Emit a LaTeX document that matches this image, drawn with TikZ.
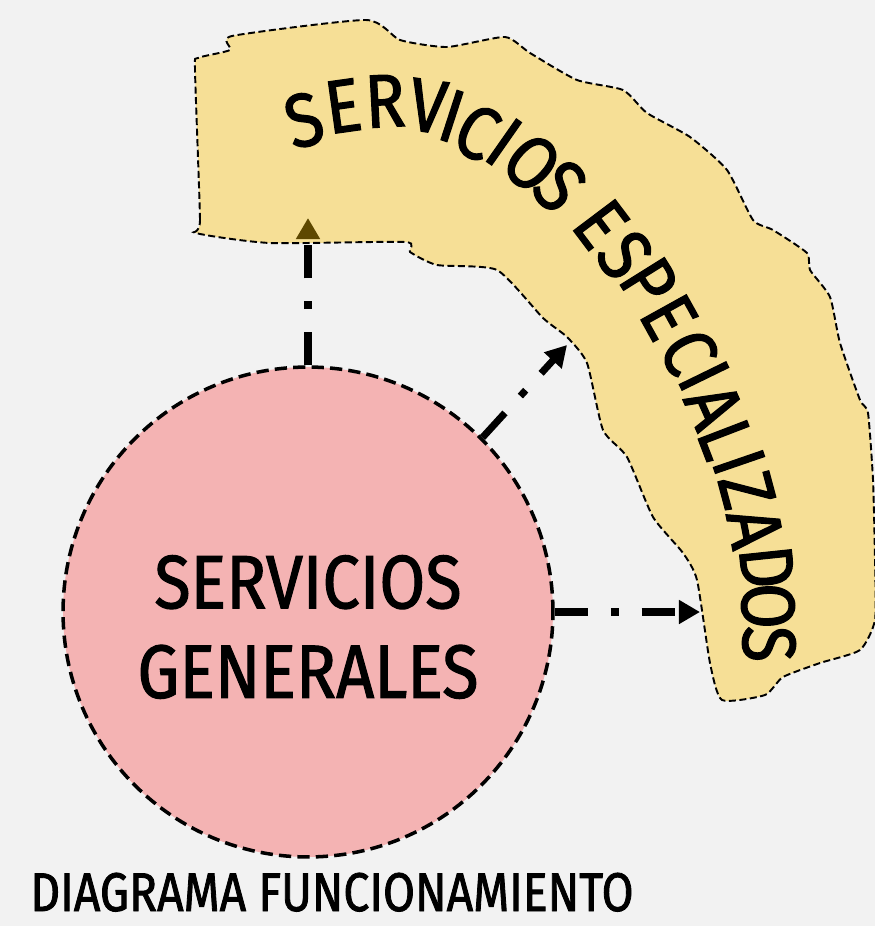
\documentclass[tikz,border=0pt]{standalone}
\usepackage{fontspec}
\setmainfont{Fira Sans}
\newfontfamily\dinfont{Fira Sans}[FakeStretch=0.88, FakeBold=1.5]
\newfontfamily\dinarc{Fira Sans}[FakeStretch=0.88, FakeBold=1.5]
\newfontfamily\dinnarrow{Fira Sans}[FakeStretch=0.85, FakeBold=1.5]
\usetikzlibrary{arrows.meta,shapes}
\definecolor{fondo}{HTML}{F2F2F2}
\definecolor{rosa}{HTML}{F4B3B3}
\definecolor{arena}{HTML}{F6DF96}
\definecolor{punta}{HTML}{5E4800}
\tikzstyle{general} = [circle, draw=black, fill=rosa, line width=2pt,
                       dash pattern=on 7pt off 3.5pt,
                       minimum size=9.8cm, inner sep=0pt]
\tikzstyle{zona} = [draw=black, fill=arena, line width=1.1pt,
                    dash pattern=on 4pt off 2pt]
\tikzstyle{flecha} = [line width=4pt,
                      dash pattern=on 19pt off 13pt on 4.5pt off 13pt,
                      -{Triangle[length=12pt, width=13pt]}]
\tikzstyle{rotulo} = [inner sep=0pt, align=center,
                      font=\dinfont\fontsize{43}{51}\selectfont]
\tikzstyle{letra} = [inner sep=0pt, font=\dinarc\fontsize{43}{43}\selectfont]

\begin{document}
\begin{tikzpicture}[x=0.02cm, y=-0.02cm]
  \fill[fondo] (0,0) rectangle (875,926);
  \useasboundingbox (0,0) rectangle (875,926);
  % franja de servicios especializados
  \draw[zona] plot[smooth cycle, tension=0.35] coordinates {
    (196,233) (200,220) (195,70) (198,58) (230,50) (232,36) (366,20)
    (400,40) (447,47) (505,37) (530,53) (577,80) (623,90) (647,113)
    (690,137) (727,170) (753,220) (773,230) (807,253) (810,270)
    (830,297) (840,343) (860,400) (868,413) (873,480) (875,560)
    (875,620) (860,650) (820,663) (783,677) (765,695) (722,700)
    (710,663) (697,580) (683,553) (653,517) (627,457) (603,430)
    (587,363) (567,337) (543,318) (497,270) (437,265) (410,252)
    (405,242) (270,243)};
  \foreach \x/\y/\a/\l [count=\i] in {
      304/120/15/S, 343/106/8/E, 385/101/3/R, 428/106/-8/V,
      452/116/-18/I, 477/132/-28/C, 504/142/-35/I, 532/163/-42/O,
      560/186/-48/S,
      601/224/-53/E, 625/255/-56/S, 649/282/-58/P, 669/317/-61/E,
      689/352/-63/C, 704/376/-64/I, 714/406/-66/A, 726/439/-69/L,
      739/462/-71/I, 747/490/-75/Z, 755/528/-79/A, 767/567/-84/D,
      768/606/-88/O, 769/644/-90/S}
    \node[letra, rotate=\a] (esp\i) at (\x,\y) {\l};
  \coordinate (espUp) at (308,218);
  \coordinate (espDiag) at (567,345);
  \coordinate (espRight) at (700,612);
  % servicios generales
  \node[general] (gen) at (308,612) {};
  \node[rotulo] (genText) at (308,627) {SERVICIOS\\GENERALES};
  % flechas
  \draw[flecha, -{Triangle[length=12pt, width=13pt, color=punta]}]
    (gen.north) -- (espUp);
  \draw[flecha] (gen.45) -- (espDiag);
  \draw[flecha] (gen.east) -- (espRight);
  \node[anchor=base west, inner sep=0pt,
        font=\dinnarrow\fontsize{31}{36}\selectfont] (titulo)
    at (30,911) {DIAGRAMA FUNCIONAMIENTO};
\end{tikzpicture}
\end{document}
